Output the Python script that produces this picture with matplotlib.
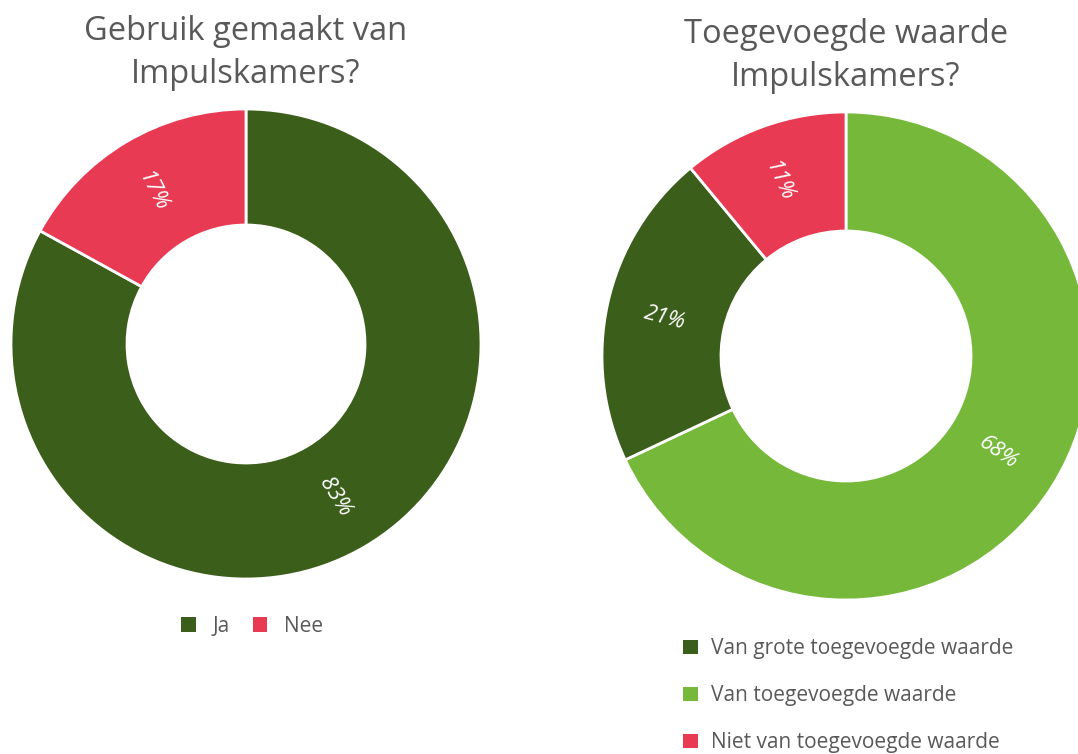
import matplotlib.pyplot as plt
from matplotlib.patches import Patch

plt.rcParams['font.family'] = ['Open Sans', 'DejaVu Sans']

# left chart: gebruik
gebruik_labels = ['Ja', 'Nee']
gebruik_values = [83, 17]
gebruik_colors = ['#3b5e1b', '#e93a53']

# right chart: toegevoegde waarde (slice order clockwise from top)
waarde_labels = ['Van toegevoegde waarde', 'Van grote toegevoegde waarde', 'Niet van toegevoegde waarde']
waarde_values = [68, 21, 11]
waarde_colors = ['#75b83a', '#3b5e1b', '#e93a53']
waarde_legend_order = [1, 0, 2]

W, H = 1078, 754
fig = plt.figure(figsize=(W / 100, H / 100), dpi=100)
ax = fig.add_axes([0, 0, 1, 1])

def px(y):
    # image y (top-down) -> axes y
    return H - y

grey = '#595959'

# left donut
ax.pie(gebruik_values, colors=gebruik_colors, startangle=90, counterclock=False,
       center=(246, px(344)), radius=235,
       wedgeprops=dict(width=116, edgecolor='white', linewidth=2), frame=True)
# right donut
ax.pie(waarde_values, colors=waarde_colors, startangle=90, counterclock=False,
       center=(846, px(356)), radius=244,
       wedgeprops=dict(width=119, edgecolor='white', linewidth=2), frame=True)
ax.set_xlim(0, W)
ax.set_ylim(0, H)
ax.set_aspect('equal')
ax.axis('off')

# percentage labels (hand placed like the original)
gebruik_pos = [(335, 497, -58), (152, 192, -63)]
for v, (x, y, r) in zip(gebruik_values, gebruik_pos):
    ax.text(x, px(y), f'{v}%', color='white', fontsize=16, style='italic',
            rotation=r, ha='center', va='center', rotation_mode='anchor')
waarde_pos = [(998, 453, -35), (665, 318, -15), (778, 182, -66)]
for v, (x, y, r) in zip(waarde_values, waarde_pos):
    ax.text(x, px(y), f'{v}%', color='white', fontsize=16, style='italic',
            rotation=r, ha='center', va='center', rotation_mode='anchor')

# titles
ax.text(246, px(53), 'Gebruik gemaakt van\nImpulskamers?', fontsize=23.5, color=grey,
        ha='center', va='center', linespacing=1.42)
ax.text(846, px(56), 'Toegevoegde waarde\nImpulskamers?', fontsize=23.5, color=grey,
        ha='center', va='center', linespacing=1.42)

# legends
h1 = [Patch(facecolor=c, label=l) for c, l in zip(gebruik_colors, gebruik_labels)]
leg1 = ax.legend(handles=h1, loc='center', bbox_to_anchor=(252 / W, 1 - 626 / H),
                 ncol=2, frameon=False, fontsize=15, labelcolor=grey,
                 handlelength=0.7, handleheight=0.7, handletextpad=0.8, columnspacing=1.1)
ax.add_artist(leg1)
h2 = [Patch(facecolor=waarde_colors[i], label=waarde_labels[i]) for i in waarde_legend_order]
ax.legend(handles=h2, loc='upper left', bbox_to_anchor=(675 / W, 1 - 630 / H),
          frameon=False, fontsize=15, labelcolor=grey, labelspacing=1.25,
          handlelength=0.7, handleheight=0.7, handletextpad=0.65, borderaxespad=0)

fig.savefig('out.png', dpi=100)
